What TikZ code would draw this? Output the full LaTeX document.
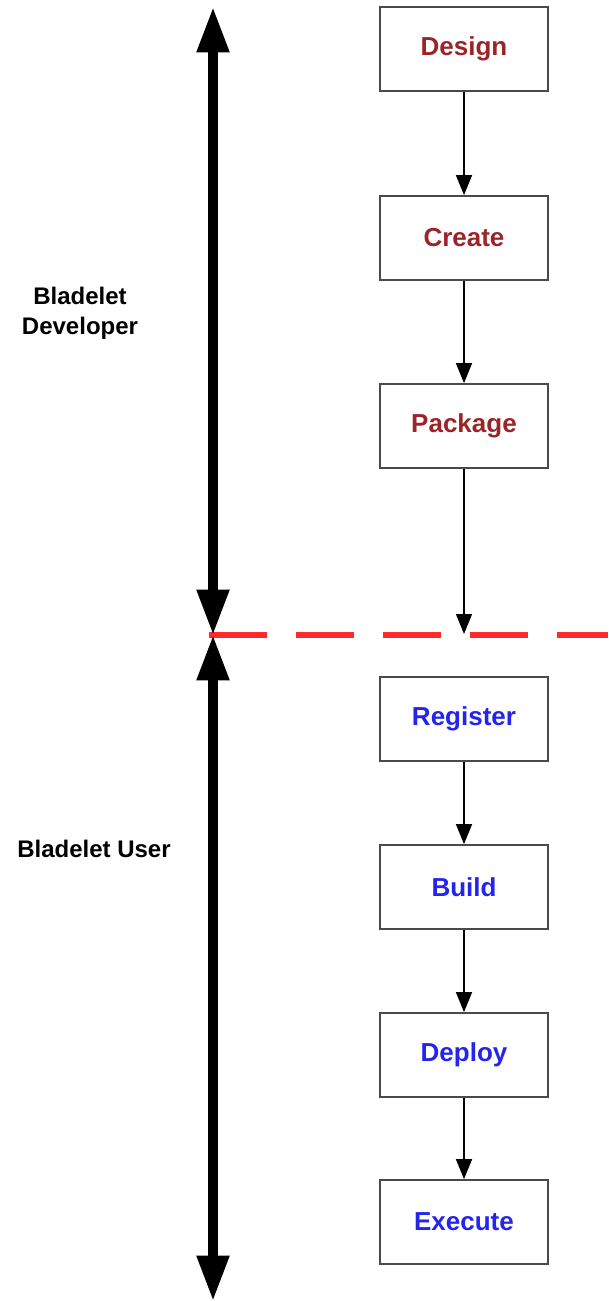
\documentclass[tikz,border=0pt]{standalone}
\usepackage{fontspec}
\setmainfont{Liberation Sans}
\usetikzlibrary{arrows.meta}
\definecolor{devred}{HTML}{9A2528}
\definecolor{userblue}{HTML}{2424EE}
\definecolor{cutred}{HTML}{FF2B2B}
\definecolor{boxline}{HTML}{4A4A4A}
\tikzset{
  stage/.style={draw=boxline, line width=1.3pt, minimum width=126pt, minimum height=63pt,
    inner sep=0pt, font=\fontsize{19.5}{23}\selectfont\bfseries, fill=white},
  devstage/.style={stage, text=devred},
  userstage/.style={stage, text=userblue},
  flow/.style={line width=1pt, -{Triangle[length=15pt,width=12pt]}},
  span/.style={line width=6.8pt, {Triangle[length=34pt,width=23pt]}-{Triangle[length=34pt,width=23pt]}},
  cut/.style={cutred, line width=4.6pt, dash pattern=on 43.5pt off 21.75pt},
  role/.style={font=\fontsize{18}{22.5}\selectfont\bfseries, align=center}
}
\begin{document}
\begin{tikzpicture}[x=0.75pt,y=-0.75pt]
  \useasboundingbox (0,0) rectangle (608,1301);

  % stage boxes
  \node[devstage]  (design)   at (464,49)   {Design};
  \node[devstage]  (create)   at (464,238)  {Create};
  \node[devstage]  (package)  at (464,426)  {Package};
  \node[userstage] (register) at (464,719)  {Register};
  \node[userstage] (build)    at (464,887)  {Build};
  \node[userstage] (deploy)   at (464,1055) {Deploy};
  \node[userstage] (execute)  at (464,1222) {Execute};

  % hand-over line between the two roles
  \coordinate (cutL) at (209,635);
  \coordinate (cutR) at (608,635);
  \coordinate (cutC) at (464,634);
  \draw[cut] (cutL) -- (cutR);

  % flow between stages
  \draw[flow] (design) -- (create);
  \draw[flow] (create) -- (package);
  \draw[flow] (package) -- (cutC);
  \draw[flow] (register) -- (build);
  \draw[flow] (build) -- (deploy);
  \draw[flow] (deploy) -- (execute);

  % role spans
  \coordinate (devTop) at (213,7);
  \coordinate (mid) at (213,635);
  \coordinate (userBot) at (213,1301);
  \draw[span] (devTop) -- (mid);
  \draw[span] (mid) -- (userBot);

  % role labels
  \node[role] (devlabel) at (80,313) {Bladelet\\Developer};
  \node[role] (userlabel) at (94,849) {Bladelet User};
\end{tikzpicture}
\end{document}
